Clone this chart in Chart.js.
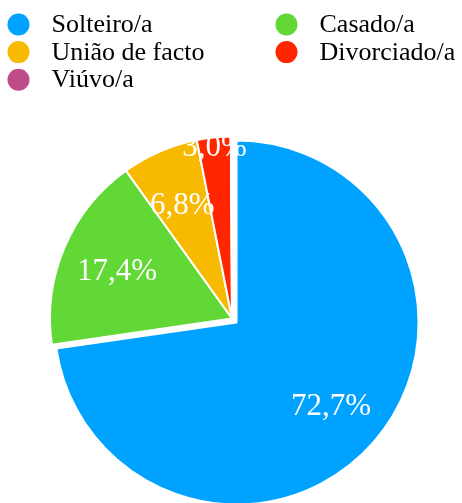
<!DOCTYPE html>
<html>
<head>
<meta charset="utf-8">
<script src="https://cdn.jsdelivr.net/npm/chart.js@4.4.1/dist/chart.umd.min.js"></script>
<style>
  html, body { margin: 0; padding: 0; background: #fff; }
</style>
</head>
<body>
<canvas id="MaritalStatusChart" width="462" height="503"></canvas>
<script>
const categories = ['Solteiro/a', 'Casado/a', 'União de facto', 'Divorciado/a', 'Viúvo/a']
const percentages = [72.7, 17.4, 6.8, 3.0, 0.1]
const sliceColors = ['#00A2FF', '#61D836', '#F8BA00', '#FF2600', '#C04B8A']

const SERIF = '"Liberation Serif", "Times New Roman", serif'

// pull the first slice out along its bisector, without growing its radius
// (chart.js 'offset' also inflates the arc, so move the element instead)
const explodeSlice = {
  id: 'explodeSlice',
  afterDatasetsUpdate(chart, args, opts) {
    const arc = chart.getDatasetMeta(0).data[opts.index]
    if (!arc) return
    const mid = (arc.startAngle + arc.endAngle) / 2
    arc.x += Math.cos(mid) * opts.distance
    arc.y += Math.sin(mid) * opts.distance
  }
}

// legend drawn as a 2 column grid (row-major), like the reference
const gridLegend = {
  id: 'gridLegend',
  afterDraw(chart) {
    const { ctx } = chart
    ctx.save()
    ctx.font = '26px ' + SERIF
    ctx.textAlign = 'left'
    ctx.textBaseline = 'alphabetic'
    categories.forEach((name, i) => {
      const col = i % 2
      const row = Math.floor(i / 2)
      const cx = col === 0 ? 18.5 : 286.5
      const cy = 24.5 + row * 27.6
      ctx.fillStyle = sliceColors[i]
      ctx.beginPath()
      ctx.arc(cx, cy, 11, 0, Math.PI * 2)
      ctx.fill()
      ctx.fillStyle = '#000'
      ctx.fillText(name, cx + 33, cy + 7.5)
    })
    ctx.restore()
  }
}

// white percentage labels inside the slices
const sliceLabels = {
  id: 'sliceLabels',
  afterDatasetsDraw(chart) {
    const { ctx } = chart
    const meta = chart.getDatasetMeta(0)
    const size = 31
    ctx.save()
    ctx.fillStyle = '#fff'
    ctx.font = size + 'px ' + SERIF
    ctx.textAlign = 'center'
    ctx.textBaseline = 'alphabetic'
    meta.data.forEach((arc, i) => {
      const value = percentages[i]
      if (value < 1) return
      const mid = (arc.startAngle + arc.endAngle) / 2
      const f = value < 5 ? 0.955 : 0.687 // small slices get pushed out
      const lx = arc.x + Math.cos(mid) * arc.outerRadius * f
      const ly = arc.y + Math.sin(mid) * arc.outerRadius * f
      ctx.fillText(value.toFixed(1).replace('.', ',') + '%', lx, ly + size * 0.338)
    })
    ctx.restore()
  }
}

new Chart(document.getElementById('MaritalStatusChart'), {
  type: 'pie',
  data: {
    labels: categories,
    datasets: [{
      data: percentages,
      backgroundColor: sliceColors,
      borderColor: '#fff',
      borderWidth: 2,
      hoverOffset: 0
    }]
  },
  options: {
    responsive: false,
    animation: false,
    events: [],
    radius: 182,
    layout: { padding: { top: 134, left: 2, right: 0, bottom: 0 } },
    plugins: {
      legend: { display: false },
      tooltip: { enabled: false },
      explodeSlice: { index: 0, distance: 6 }
    }
  },
  plugins: [explodeSlice, sliceLabels, gridLegend]
})
</script>
</body>
</html>
